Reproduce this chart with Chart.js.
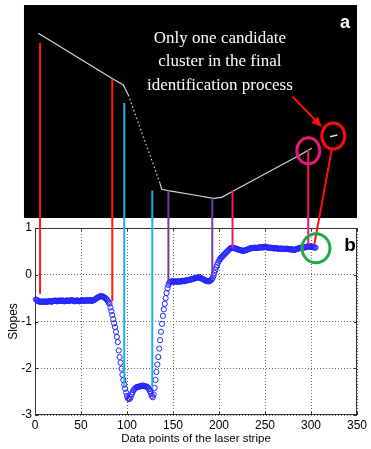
<!DOCTYPE html>
<html><head><meta charset="utf-8">
<script src="https://cdn.jsdelivr.net/npm/chart.js@4.4.1/dist/chart.umd.min.js"></script>
<style>html,body{margin:0;padding:0;background:#fff;}#wrap{width:371px;height:449px;}</style>
</head><body><div id="wrap"><canvas id="c" width="371" height="449"></canvas></div>
<script>
// ---- data ----
// slope of the laser stripe at data points 1..305
const slopes = [
-0.53,-0.54,-0.56,-0.57,-0.57,-0.58,-0.58,-0.57,-0.58,-0.58,
-0.57,-0.58,-0.58,-0.57,-0.57,-0.56,-0.57,-0.58,-0.57,-0.56,
-0.56,-0.55,-0.56,-0.57,-0.56,-0.55,-0.56,-0.56,-0.55,-0.55,
-0.56,-0.57,-0.56,-0.55,-0.55,-0.56,-0.56,-0.55,-0.55,-0.54,
-0.55,-0.56,-0.57,-0.56,-0.55,-0.55,-0.56,-0.57,-0.56,-0.55,
-0.54,-0.55,-0.56,-0.56,-0.55,-0.54,-0.55,-0.56,-0.55,-0.54,
-0.55,-0.56,-0.55,-0.54,-0.53,-0.52,-0.50,-0.49,-0.48,-0.47,
-0.46,-0.46,-0.46,-0.47,-0.48,-0.49,-0.51,-0.53,-0.56,-0.59,
-0.62,-0.70,-0.78,-0.86,-0.95,-1.04,-1.12,-1.22,-1.33,-1.44,
-1.62,-1.76,-1.88,-2.01,-2.14,-2.25,-2.35,-2.44,-2.52,-2.59,
-2.64,-2.66,-2.65,-2.62,-2.56,-2.51,-2.47,-2.45,-2.43,-2.41,
-2.40,-2.40,-2.39,-2.39,-2.38,-2.38,-2.37,-2.38,-2.38,-2.39,
-2.39,-2.40,-2.42,-2.45,-2.49,-2.54,-2.59,-2.62,-2.56,-2.42,
-2.25,-2.08,-1.92,-1.76,-1.58,-1.40,-1.22,-1.05,-0.88,-0.74,
-0.62,-0.50,-0.39,-0.29,-0.22,-0.17,-0.15,-0.15,-0.14,-0.14,
-0.15,-0.15,-0.14,-0.15,-0.15,-0.14,-0.14,-0.15,-0.14,-0.13,
-0.13,-0.14,-0.13,-0.12,-0.12,-0.12,-0.11,-0.11,-0.10,-0.10,
-0.09,-0.09,-0.08,-0.07,-0.07,-0.06,-0.06,-0.05,-0.06,-0.07,
-0.08,-0.09,-0.10,-0.11,-0.12,-0.13,-0.13,-0.14,-0.14,-0.13,
-0.12,-0.10,-0.07,-0.02,0.04,0.10,0.16,0.21,0.26,0.30,
0.33,0.36,0.38,0.40,0.42,0.44,0.46,0.48,0.50,0.52,
0.54,0.56,0.57,0.58,0.58,0.57,0.57,0.56,0.55,0.55,
0.54,0.53,0.53,0.52,0.52,0.51,0.51,0.52,0.53,0.53,
0.54,0.55,0.56,0.56,0.57,0.57,0.57,0.58,0.58,0.57,
0.57,0.58,0.58,0.58,0.59,0.59,0.58,0.59,0.59,0.60,
0.59,0.59,0.58,0.58,0.58,0.57,0.58,0.57,0.57,0.56,
0.57,0.57,0.56,0.56,0.56,0.55,0.56,0.56,0.55,0.55,
0.56,0.55,0.55,0.56,0.55,0.55,0.54,0.55,0.54,0.54,
0.53,0.53,0.54,0.55,0.55,0.56,0.57,0.57,0.58,0.58,
0.59,0.59,0.58,0.59,0.60,0.60,0.61,0.60,0.60,0.61,
0.60,0.59,0.59,0.58,0.58
];
const xTicks = [0, 50, 100, 150, 200, 250, 300, 350];
const yTicks = [1, 0, -1, -2, -3];

// laser stripe profile in panel (a): data point index and height in the image (px rows above panel bottom)
const profileX = [3.6, 83.4, 96.0, 101.4, 135.9, 137.7, 144.9, 179.3, 193.8, 202.9, 215.5, 288.0, 300.8];
const profileH = [183.7, 138.7, 132.0, 122.0, 33.7, 27.7, 26.3, 21.0, 18.7, 19.7, 26.0, 62.0, 68.7];
// isolated candidate cluster
const clusterX = [320.7, 328.6];
const clusterH = [80.3, 82.0];

// connector lines from panel (a) down to the slope curve
const connX = [5.5, 84, 97, 127.5, 145, 192.7, 214.7, 297];
const connTopH = [174, 138, 114, 26.3, 26.3, 18.7, 26.3, 67];
const connBottomSlope = [-0.41, -0.57, -2.39, -2.42, -0.15, -0.08, 0.57, 0.64];
const connGroup = ['red', 'red', 'cyan', 'cyan', 'purple', 'purple', 'pink', 'pink'];

const calloutLines = ['Only one candidate', 'cluster in the final', 'identification process'];

// ---- styles ----
const GROUP_COLORS = {red: '#ff1a1a', cyan: '#1ab0ea', purple: '#7636ae', pink: '#f2166e'};
const SANS = '"Liberation Sans", Arial, sans-serif';

const slopePts = slopes.map((v, i) => ({x: i + 1, y: v}));
const profilePts = profileX.map((x, i) => ({x, y: profileH[i]}));
const clusterPts = clusterX.map((x, i) => ({x, y: clusterH[i]}));

const overlay = {
  id: 'overlay',
  beforeDatasetsDraw(chart) {
    const {ctx, chartArea: a, scales} = chart;
    const xs = scales.x, yi = scales.yImg;
    ctx.save();
    // black image panel (a)
    const left = xs.getPixelForValue(-12);
    const top = yi.getPixelForValue(212);
    const bot = yi.getPixelForValue(-1);
    ctx.fillStyle = '#000';
    ctx.fillRect(left, top, a.right - left, bot - top);
    // frame of panel (b)
    ctx.strokeStyle = '#333';
    ctx.lineWidth = 1;
    ctx.strokeRect(Math.round(a.left) + 0.5, Math.round(a.top) + 0.5, Math.round(a.right - a.left) - 1, Math.round(a.bottom - a.top) - 1);
    // inward ticks
    ctx.beginPath();
    xTicks.forEach(v => {
      const px = Math.round(xs.getPixelForValue(v)) + 0.5;
      ctx.moveTo(px, a.bottom); ctx.lineTo(px, a.bottom - 3);
      ctx.moveTo(px, a.top); ctx.lineTo(px, a.top + 3);
    });
    yTicks.forEach(v => {
      const py = Math.round(scales.y.getPixelForValue(v)) + 0.5;
      ctx.moveTo(a.left, py); ctx.lineTo(a.left + 3, py);
      ctx.moveTo(a.right, py); ctx.lineTo(a.right - 3, py);
    });
    ctx.stroke();
    ctx.restore();
  },
  afterDatasetsDraw(chart) {
    const {ctx, scales} = chart;
    const xs = scales.x, ys = scales.y, yi = scales.yImg;
    ctx.save();
    ctx.lineWidth = 2;
    connX.forEach((x, i) => {
      const px = xs.getPixelForValue(x);
      ctx.strokeStyle = GROUP_COLORS[connGroup[i]];
      ctx.beginPath();
      ctx.moveTo(px, yi.getPixelForValue(connTopH[i]));
      ctx.lineTo(px, ys.getPixelForValue(connBottomSlope[i]));
      ctx.stroke();
    });
    // slanted red line from the candidate cluster circle to the curve end
    ctx.strokeStyle = '#ff1010';
    ctx.beginPath();
    ctx.moveTo(xs.getPixelForValue(322.5), yi.getPixelForValue(67));
    ctx.lineTo(xs.getPixelForValue(303.6), ys.getPixelForValue(0.65));
    ctx.stroke();
    // circles
    ctx.lineWidth = 3;
    ctx.strokeStyle = '#e8187a';
    ctx.beginPath();
    ctx.ellipse(xs.getPixelForValue(297.1), yi.getPixelForValue(66.3), 11.5, 13, 0, 0, Math.PI * 2);
    ctx.stroke();
    ctx.strokeStyle = '#ff0a0a';
    ctx.beginPath();
    ctx.ellipse(xs.getPixelForValue(324.2), yi.getPixelForValue(81), 11.5, 13, 0, 0, Math.PI * 2);
    ctx.stroke();
    ctx.strokeStyle = '#1faa4a';
    ctx.beginPath();
    ctx.ellipse(xs.getPixelForValue(305.4), ys.getPixelForValue(0.566), 14, 14.5, 0, 0, Math.PI * 2);
    ctx.stroke();
    // arrow
    const ax0 = xs.getPixelForValue(280), ay0 = yi.getPixelForValue(120.3);
    const ax1 = xs.getPixelForValue(311.6), ay1 = yi.getPixelForValue(90.3);
    const ang = Math.atan2(ay1 - ay0, ax1 - ax0);
    ctx.strokeStyle = '#ff1010'; ctx.fillStyle = '#ff1010'; ctx.lineWidth = 2;
    ctx.beginPath();
    ctx.moveTo(ax0, ay0);
    ctx.lineTo(ax1 - 7 * Math.cos(ang), ay1 - 7 * Math.sin(ang));
    ctx.stroke();
    ctx.beginPath();
    ctx.moveTo(ax1, ay1);
    ctx.lineTo(ax1 - 10 * Math.cos(ang) + 4.5 * Math.sin(ang), ay1 - 10 * Math.sin(ang) - 4.5 * Math.cos(ang));
    ctx.lineTo(ax1 - 10 * Math.cos(ang) - 4.5 * Math.sin(ang), ay1 - 10 * Math.sin(ang) + 4.5 * Math.cos(ang));
    ctx.closePath();
    ctx.fill();
    // callout text
    ctx.fillStyle = '#fff';
    ctx.font = '17px "Liberation Serif", "Times New Roman", serif';
    ctx.textAlign = 'center';
    ctx.textBaseline = 'middle';
    const cx = xs.getPixelForValue(201);
    [178.7, 155.3, 131].forEach((h, i) => ctx.fillText(calloutLines[i], cx, yi.getPixelForValue(h)));
    // panel letters
    ctx.font = 'bold 18px ' + SANS;
    ctx.fillText('a', xs.getPixelForValue(337), yi.getPixelForValue(194.3));
    ctx.fillStyle = '#000';
    ctx.font = 'bold 19px ' + SANS;
    ctx.fillText('b', xs.getPixelForValue(342.4), ys.getPixelForValue(0.62));
    ctx.restore();
  }
};

new Chart(document.getElementById('c'), {
  type: 'scatter',
  data: {
    datasets: [
      {
        label: 'profile', type: 'line', data: profilePts, yAxisID: 'yImg',
        borderColor: '#d6d6d6', borderWidth: 1.2, pointRadius: 0, clip: false, tension: 0,
        segment: {borderDash: c => (c.p0.parsed.x >= 101 && c.p1.parsed.x <= 136) ? [1.5, 2.5] : undefined}
      },
      {
        label: 'cluster', type: 'line', data: clusterPts, yAxisID: 'yImg',
        borderColor: '#e0e0e0', borderWidth: 1.5, pointRadius: 0, clip: false
      },
      {
        label: 'Slopes', data: slopePts, yAxisID: 'y',
        pointStyle: 'circle', pointRadius: 2.6, borderWidth: 1,
        borderColor: '#2323ff', backgroundColor: 'rgba(0,0,0,0)', clip: false
      }
    ]
  },
  options: {
    responsive: false, animation: false, events: [],
    layout: {padding: {top: 228, right: 14, left: 0, bottom: 0}},
    plugins: {legend: {display: false}, tooltip: {enabled: false}},
    scales: {
      x: {
        type: 'linear', position: 'bottom', min: 0, max: 350,
        afterFit: s => { s.height = 34; },
        afterBuildTicks: s => { s.ticks = xTicks.map(v => ({value: v})); },
        ticks: {font: {family: SANS, size: 12}, color: '#000', padding: 3, maxRotation: 0, autoSkip: false},
        grid: {color: '#6a6a6a', drawTicks: false, lineWidth: 1},
        border: {display: false, dash: [1, 2]},
        title: {display: true, text: 'Data points of the laser stripe', color: '#000',
          font: {family: SANS, size: 11.5}, padding: {top: 0, bottom: 3}}
      },
      y: {
        type: 'linear', position: 'left', min: -3, max: 1,
        afterFit: s => { s.width = 35; },
        afterBuildTicks: s => { s.ticks = yTicks.map(v => ({value: v})); },
        ticks: {font: {family: SANS, size: 12}, color: '#000', padding: 3, autoSkip: false},
        grid: {color: '#6a6a6a', drawTicks: false, lineWidth: 1},
        border: {display: false, dash: [1, 2]},
        title: {display: true, text: 'Slopes', color: '#000',
          font: {family: SANS, size: 12}, padding: {top: 6, bottom: 0}}
      },
      yImg: {type: 'linear', position: 'right', display: false, min: -198, max: -11}
    }
  },
  plugins: [overlay]
});
</script>
</body></html>
